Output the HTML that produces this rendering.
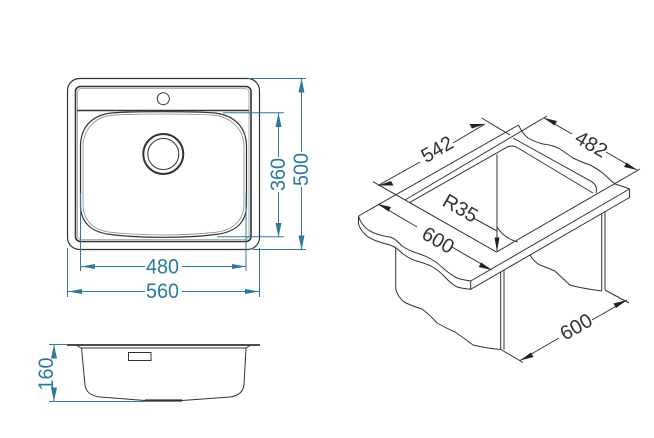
<!DOCTYPE html>
<html><head><meta charset="utf-8"><style>
html,body{margin:0;padding:0;background:#fff;width:654px;height:438px;overflow:hidden}
svg{display:block}
text{font-family:"Liberation Sans",sans-serif}
.b text{fill:#2b7a9b;font-size:21px;text-anchor:middle}
.k text{fill:#333;font-size:20px;text-anchor:middle}
</style></head><body>
<svg width="654" height="438" viewBox="0 0 654 438" xmlns="http://www.w3.org/2000/svg">
<!-- Top view -->
<g fill="none" stroke="#333">
<rect x="67.500" y="78.500" width="192" height="171" rx="12" stroke-width="1.200"/>
<rect x="75.500" y="86.500" width="175.500" height="155" rx="5" stroke-width="1.600"/>
<rect x="77.500" y="88.500" width="171.500" height="151" rx="4" stroke="#999" stroke-width=".8"/>
<line x1="77" y1="110.500" x2="249" y2="110.500" stroke-width="1.600"/>
<circle cx="163.300" cy="98.700" r="6" stroke-width="1"/>
<path d="M163 111.700C190 111.700 203 112 215 113C235 115.500 246.500 128 246.500 146V205C246.500 222 236 232.500 215 234.500C200 236.500 185 237.300 163 237.300C141 237.300 126 236.500 111 234.500C91 232.500 80.500 222 80.500 205V146C80.500 128 91 115.500 111 113C123 112 136 111.700 163 111.700Z" stroke-width="1.200"/>
<path d="M163 114C190 114 203 114.300 215 115.300C232 117.500 244 130 244 147V204C244 220 233 230.500 215 232.300C200 234 185 235 163 235C141 235 126 234 111 232.300C93 230.500 83 220 83 204V147C83 130 94 117.500 111 115.300C123 114.300 136 114 163 114Z" stroke="#888" stroke-width=".8"/>
<circle cx="163.300" cy="154" r="20" stroke-width="2"/>
<circle cx="163.300" cy="154" r="15.500" stroke-width="1"/>
</g>
<!-- Blue dimensions -->
<g stroke="#2b7a9b" fill="none" stroke-width="1">
<path d="M248 78.500H306M253 249.500H306M223 112.700H284M217 236.700H284"/>
<path d="M80.500 193V271M246 193V271M67.500 248V297M259.500 248V297"/>
<path d="M301.500 78V152M301.500 187V249"/>
<path d="M278.500 113V157M278.500 192V237"/>
<path d="M81 266.500H145M182 266.500H246"/>
<path d="M68 291.500H145M182 291.500H259"/>
<path d="M54 344V358M54 390V401M49 344.500H67M49 401.500H145"/>
</g>
<g fill="#2b7a9b">
<path d="M301.500 78.500l-3 14h6zM301.500 249.500l-3-14h6z"/>
<path d="M278.500 113l-3 14h6zM278.500 237l-3-14h6z"/>
<path d="M81 266.500l14-2.500v5zM246 266.500l-14-2.500v5z"/>
<path d="M68 291.500l14-2.500v5zM259 291.500l-14-2.500v5z"/>
<path d="M54 344.500l-3 14h6zM54 401.500l-3-14h6z"/>
</g>
<g class="b">
<text x="162.500" y="273.500" textLength="33" lengthAdjust="spacingAndGlyphs">480</text>
<text x="162.500" y="298" textLength="33" lengthAdjust="spacingAndGlyphs">560</text>
<text transform="translate(285 174.500) rotate(-90)" textLength="33" lengthAdjust="spacingAndGlyphs">360</text>
<text transform="translate(308 169.500) rotate(-90)" textLength="33" lengthAdjust="spacingAndGlyphs">500</text>
<text transform="translate(53 374) rotate(-90)" textLength="33" lengthAdjust="spacingAndGlyphs">160</text>
</g>
<!-- Side view -->
<g fill="none" stroke="#333">
<line x1="67" y1="345" x2="260" y2="345" stroke-width="1.800"/>
<path d="M77 345.500L81 348H246L250 345.500" stroke-width="1"/>
<path d="M81.500 348L85 385C86 393 92 396 100 397L145 400.500H182L230 397C238 396 243 392 244 385L246 348" stroke-width="1"/>
<rect x="128.500" y="352.500" width="22.500" height="8" stroke-width="1"/>
<line x1="145" y1="400.500" x2="182" y2="400.500" stroke-width="2.200"/>
</g>
<!-- Isometric -->
<g fill="none" stroke="#333" stroke-width="1">
<!-- counter top -->
<path d="M358.500 216L518.500 125"/>
<path d="M518.500 125Q522 133 528 138Q535 142 543 144Q553 145 560 149Q567 154 573 158Q581 162 590 165Q598 169 605 175Q610 180 615 184Q622 186 629.500 189V197.500L470.700 289.300V281L629.500 189"/>
<path d="M358.500 216Q362 228 374 233Q382 236 390 237Q396 239 402 246Q408 250 415 252.500Q424 255 431 259Q438 263 444 269Q451 275 458 278.500Q464 280 470.700 281"/>
<path d="M358.500 216V224Q362 235 374 240Q382 243 390 245Q396 247 402 253Q408 258 415 260.500Q424 263 431 266Q438 270 444 276Q450 283 457 287Q463 288.500 470.700 289.300"/>
<!-- opening -->
<path d="M373 181.700L496.500 252L640 169"/>
<path d="M547 116L405 200"/>
<path d="M410 202.300L506.700 147.300Q512 144.500 518 148L593 193"/>
<path d="M513 138L591.700 181.700Q598 186 596 193"/>
<path d="M497 154.500V251"/>
<path d="M497 227C502 235 510 240 518 242"/>
<!-- below -->
<path d="M395.700 246.700V289Q398 297 404 302Q412 306 422 309Q430 315 437 323Q446 328 455 332Q464 338 473 345Q485 348 500 349.500"/>
<path d="M500.700 271.700V349.500M504 270V349.500"/>
<path d="M530 255Q534 262 540 265Q548 268 555 271Q562 278 570 285Q580 288 601.700 291"/>
<path d="M601.700 213V291M605 211V290"/>
<!-- dims -->
<path d="M481.700 118L510 135"/>
<path d="M378 185.500L420 162M453 143L485 124"/>
<path d="M544 118L572 134M606 152L637 170"/>
<path d="M378 204L417 227M452 247L491.700 270"/>
<path d="M520 360.500L559 338M592 320L627 300"/>
<path d="M500 349L523 362.500M605 290L629 303"/>
<path d="M473.300 218L497 231"/>
</g>
<g fill="#222">
<path d="M378 185.500l13-4.500 2.500 4.500zM485 124l-13 4.500-2.500-4.500z"/>
<path d="M544 118l13 3-2.500 4.500zM637 170l-13-3 2.500-4.500z"/>
<path d="M378 204l13 3-2.500 4.500zM491.700 270l-13-3 2.500-4.500z"/>
<path d="M520 360.500l11-8 2.500 4.500zM627 300l-11 8-2.500-4.500z"/>
<path d="M497 251.500l-2.500-14h5z"/>
</g>
<g class="k">
<text transform="translate(440.500 155) rotate(-30)">542</text>
<text transform="translate(588 150) rotate(30)">482</text>
<text transform="translate(434.800 246) rotate(30)">600</text>
<text transform="translate(579.500 332.700) rotate(-30)">600</text>
<text transform="translate(457 214) rotate(30)">R35</text>
</g>
</svg>
</body></html>
